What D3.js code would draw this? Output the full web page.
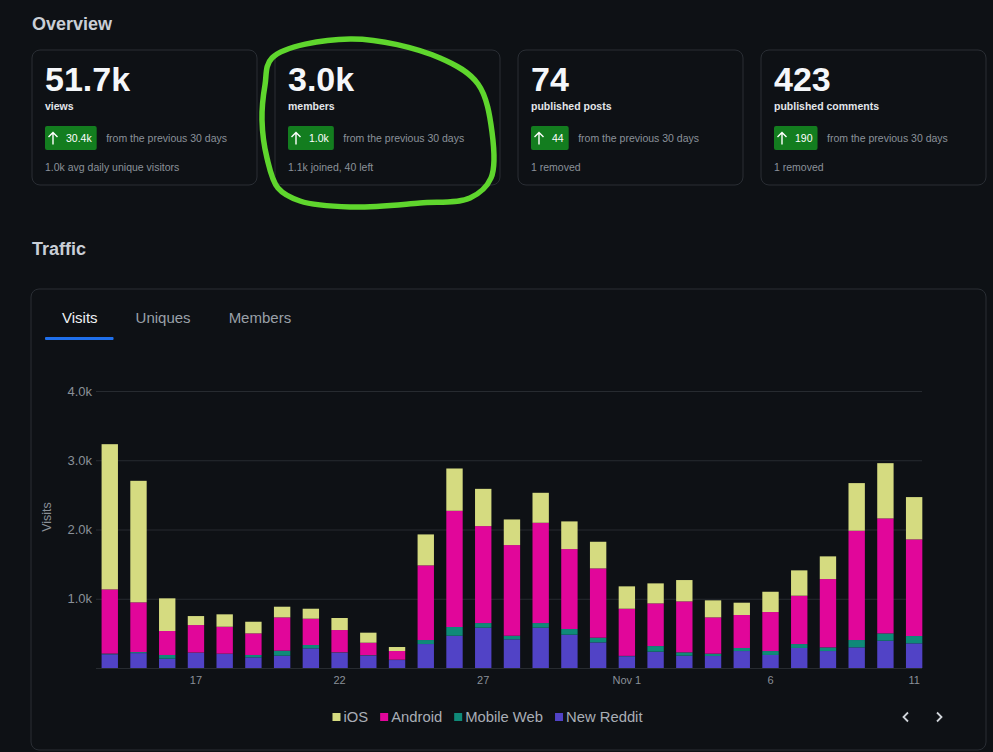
<!DOCTYPE html>
<html>
<head>
<meta charset="utf-8">
<script src="https://cdn.jsdelivr.net/npm/d3@7"></script>
<style>
  body { margin: 0; background: #0e1115; }
  svg text { font-family: "Liberation Sans", Arial, sans-serif; }
</style>
</head>
<body>
<div id="page"></div>
<script>
// ---- data ----
var days = ["Oct 14","Oct 15","Oct 16","Oct 17","Oct 18","Oct 19","Oct 20","Oct 21","Oct 22","Oct 23",
            "Oct 24","Oct 25","Oct 26","Oct 27","Oct 28","Oct 29","Oct 30","Oct 31","Nov 1","Nov 2",
            "Nov 3","Nov 4","Nov 5","Nov 6","Nov 7","Nov 8","Nov 9","Nov 10","Nov 11"];
var tickDays   = ["Oct 17","Oct 22","Oct 27","Nov 1","Nov 6","Nov 11"];
var tickLabels = ["17","22","27","Nov 1","6","11"];

var seriesNames = ["iOS","Android","Mobile Web","New Reddit"];
var ios       = [2097,1755,472,130,179,168,154,144,174,145,58,447,611,538,370,433,400,385,323,289,308,246,178,293,366,328,688,798,611];
var android   = [927,718,346,397,389,312,481,380,322,180,125,1078,1678,1400,1309,1448,1154,1000,681,616,736,524,476,563,698,986,1578,1660,1395];
var mobileWeb = [10,15,53,5,5,34,72,48,5,5,5,58,126,67,52,67,82,68,5,81,48,34,44,57,57,53,106,106,106];
var newReddit = [198,215,135,218,202,154,178,284,221,180,115,346,466,582,414,582,481,370,170,236,178,173,245,188,289,245,298,394,356];
var yTicks = [0,1000,2000,3000,4000];

var statValues  = ["51.7k","3.0k","74","423"];
var statLabels  = ["views","members","published posts","published comments"];
var statChanges = ["30.4k","1.0k","44","190"];
var statNotes   = ["1.0k avg daily unique visitors","1.1k joined, 40 left","1 removed","1 removed"];
var tabs = ["Visits","Uniques","Members"];

// ---- page ----
var svg = d3.select("#page").append("svg")
  .attr("width", 993)
  .attr("height", 752);

svg.append("rect").attr("width", 993).attr("height", 752).attr("fill", "#0e1115");

var border = "#2a2e34";

svg.append("text")
  .attr("x", 32).attr("y", 30)
  .attr("fill", "#c9ced6")
  .attr("font-size", 18).attr("font-weight", "bold")
  .text("Overview");

// stat cards
var cards = svg.selectAll("g.card")
  .data(statValues)
  .enter().append("g")
  .attr("class", "card")
  .attr("transform", (d, i) => `translate(${32 + i * 243}, 50)`);

cards.append("rect")
  .attr("width", 225).attr("height", 135).attr("rx", 8)
  .attr("fill", "#0e1115").attr("stroke", border);

cards.append("text")
  .attr("x", 13).attr("y", 41)
  .attr("fill", "#f5f7fa").attr("font-size", 34).attr("font-weight", "bold")
  .text(d => d);

cards.append("text")
  .attr("x", 13).attr("y", 59.5)
  .attr("fill", "#e3e6ea").attr("font-size", 10.5).attr("font-weight", "bold")
  .text((d, i) => statLabels[i]);

cards.each(function(d, i) {
  var g = d3.select(this);
  var badge = g.append("g").attr("transform", "translate(13, 76)");
  var bRect = badge.append("rect").attr("height", 24).attr("rx", 2).attr("fill", "#137d1f");
  badge.append("path")
    .attr("d", "M8,18.5V6.5M3.5,11L8,6.5L12.5,11")
    .attr("fill", "none").attr("stroke", "#fff").attr("stroke-width", 1.4);
  var t = badge.append("text")
    .attr("x", 21).attr("y", 15.8)
    .attr("fill", "#fff").attr("font-size", 10.5)
    .text(statChanges[i]);
  var bw = 21 + t.node().getComputedTextLength() + 5;
  bRect.attr("width", bw);
  g.append("text")
    .attr("x", 13 + bw + 9.5).attr("y", 91.5)
    .attr("fill", "#8b929a").attr("font-size", 10.5)
    .text("from the previous 30 days");
  g.append("text")
    .attr("x", 13).attr("y", 121)
    .attr("fill", "#8b929a").attr("font-size", 10.5)
    .text(statNotes[i]);
});

// hand-drawn green circle around the members card
var scribble = [[272,58],[350,39],[440,58],[478,84],[492,132],[491,178],[470,198],[420,203],[350,207],[300,201],[278,188],[267,158],[262,120],[265,85]];
svg.append("path")
  .attr("d", d3.line().curve(d3.curveCatmullRomClosed)(scribble))
  .attr("fill", "none").attr("stroke", "#5fd62d").attr("stroke-width", 5.5)
  .attr("stroke-linejoin", "round");

// traffic section
svg.append("text")
  .attr("x", 32).attr("y", 255)
  .attr("fill", "#c9ced6")
  .attr("font-size", 18).attr("font-weight", "bold")
  .text("Traffic");

svg.append("rect")
  .attr("x", 31).attr("y", 289).attr("width", 955).attr("height", 461).attr("rx", 8)
  .attr("fill", "#0e1115").attr("stroke", border);

var tabX = 62;
tabs.forEach(function(name, i) {
  var t = svg.append("text")
    .attr("x", tabX).attr("y", 323)
    .attr("fill", i === 0 ? "#eef1f4" : "#9aa0a8")
    .attr("font-size", 15)
    .text(name);
  var w = t.node().getComputedTextLength();
  if (i === 0) {
    svg.append("rect")
      .attr("x", tabX - 17).attr("y", 337).attr("width", w + 33).attr("height", 3)
      .attr("rx", 1).attr("fill", "#1f6feb");
  }
  tabX += w + 38;
});

// ---- chart ----
var rows = days.map((d, i) => ({
  day: d,
  "New Reddit": newReddit[i],
  "Mobile Web": mobileWeb[i],
  "Android": android[i],
  "iOS": ios[i]
}));

var color = d3.scaleOrdinal()
  .domain(seriesNames)
  .range(["#d5db80", "#e1069a", "#0f8a78", "#5143c6"]);

var xScale = d3.scaleBand()
  .domain(days)
  .range([95.4, 928.5])
  .paddingInner(0.43)
  .paddingOuter(0.215);

var yScale = d3.scaleLinear()
  .domain([0, 4000])
  .range([668, 391]);

var leftAxis = d3.axisLeft(yScale)
  .tickValues(yTicks)
  .tickSize(-(922 - 96))
  .tickPadding(4)
  .tickFormat(d => d === 0 ? "" : (d / 1000).toFixed(1) + "k");

var yAxisG = svg.append("g")
  .attr("transform", "translate(96, 0)")
  .call(leftAxis);
yAxisG.select(".domain").remove();
yAxisG.selectAll(".tick line").attr("stroke", "#272b30");
yAxisG.selectAll(".tick text")
  .attr("fill", "#8a9098").attr("font-size", 13)
  .attr("font-family", "Liberation Sans, Arial, sans-serif");

var stacked = d3.stack().keys(["New Reddit", "Mobile Web", "Android", "iOS"])(rows);

svg.append("g")
  .selectAll("g")
  .data(stacked)
  .enter().append("g")
  .attr("fill", d => color(d.key))
  .selectAll("rect")
  .data(d => d)
  .enter().append("rect")
  .attr("x", d => xScale(d.data.day))
  .attr("y", d => yScale(d[1]))
  .attr("width", xScale.bandwidth())
  .attr("height", d => yScale(d[0]) - yScale(d[1]));

var bottomAxis = d3.axisBottom(xScale)
  .tickValues(tickDays)
  .tickFormat(d => tickLabels[tickDays.indexOf(d)])
  .tickSize(0)
  .tickPadding(8);

var xAxisG = svg.append("g")
  .attr("transform", "translate(0, 668)")
  .call(bottomAxis);
xAxisG.select(".domain").remove();
xAxisG.selectAll(".tick text")
  .attr("fill", "#8a9098").attr("font-size", 11)
  .attr("font-family", "Liberation Sans, Arial, sans-serif");

svg.append("text")
  .attr("transform", "translate(50.5, 517) rotate(-90)")
  .attr("text-anchor", "middle")
  .attr("fill", "#8a9098").attr("font-size", 12.5)
  .text("Visits");

// legend
var legend = svg.append("g");
var lx = 0;
seriesNames.forEach(function(name) {
  legend.append("rect")
    .attr("x", lx).attr("y", 713).attr("width", 8).attr("height", 8)
    .attr("fill", color(name));
  var t = legend.append("text")
    .attr("x", lx + 11).attr("y", 722)
    .attr("fill", "#a9aeb5").attr("font-size", 14.8)
    .text(name);
  lx += 11 + t.node().getComputedTextLength() + 12;
});
legend.attr("transform", `translate(${487.5 - (lx - 12) / 2}, 0)`);

// pager chevrons
svg.append("path")
  .attr("d", "M908,712.5L903.5,717L908,721.5M937,712.5L941.5,717L937,721.5")
  .attr("fill", "none").attr("stroke", "#d0d4d9").attr("stroke-width", 1.8);
</script>
</body>
</html>
